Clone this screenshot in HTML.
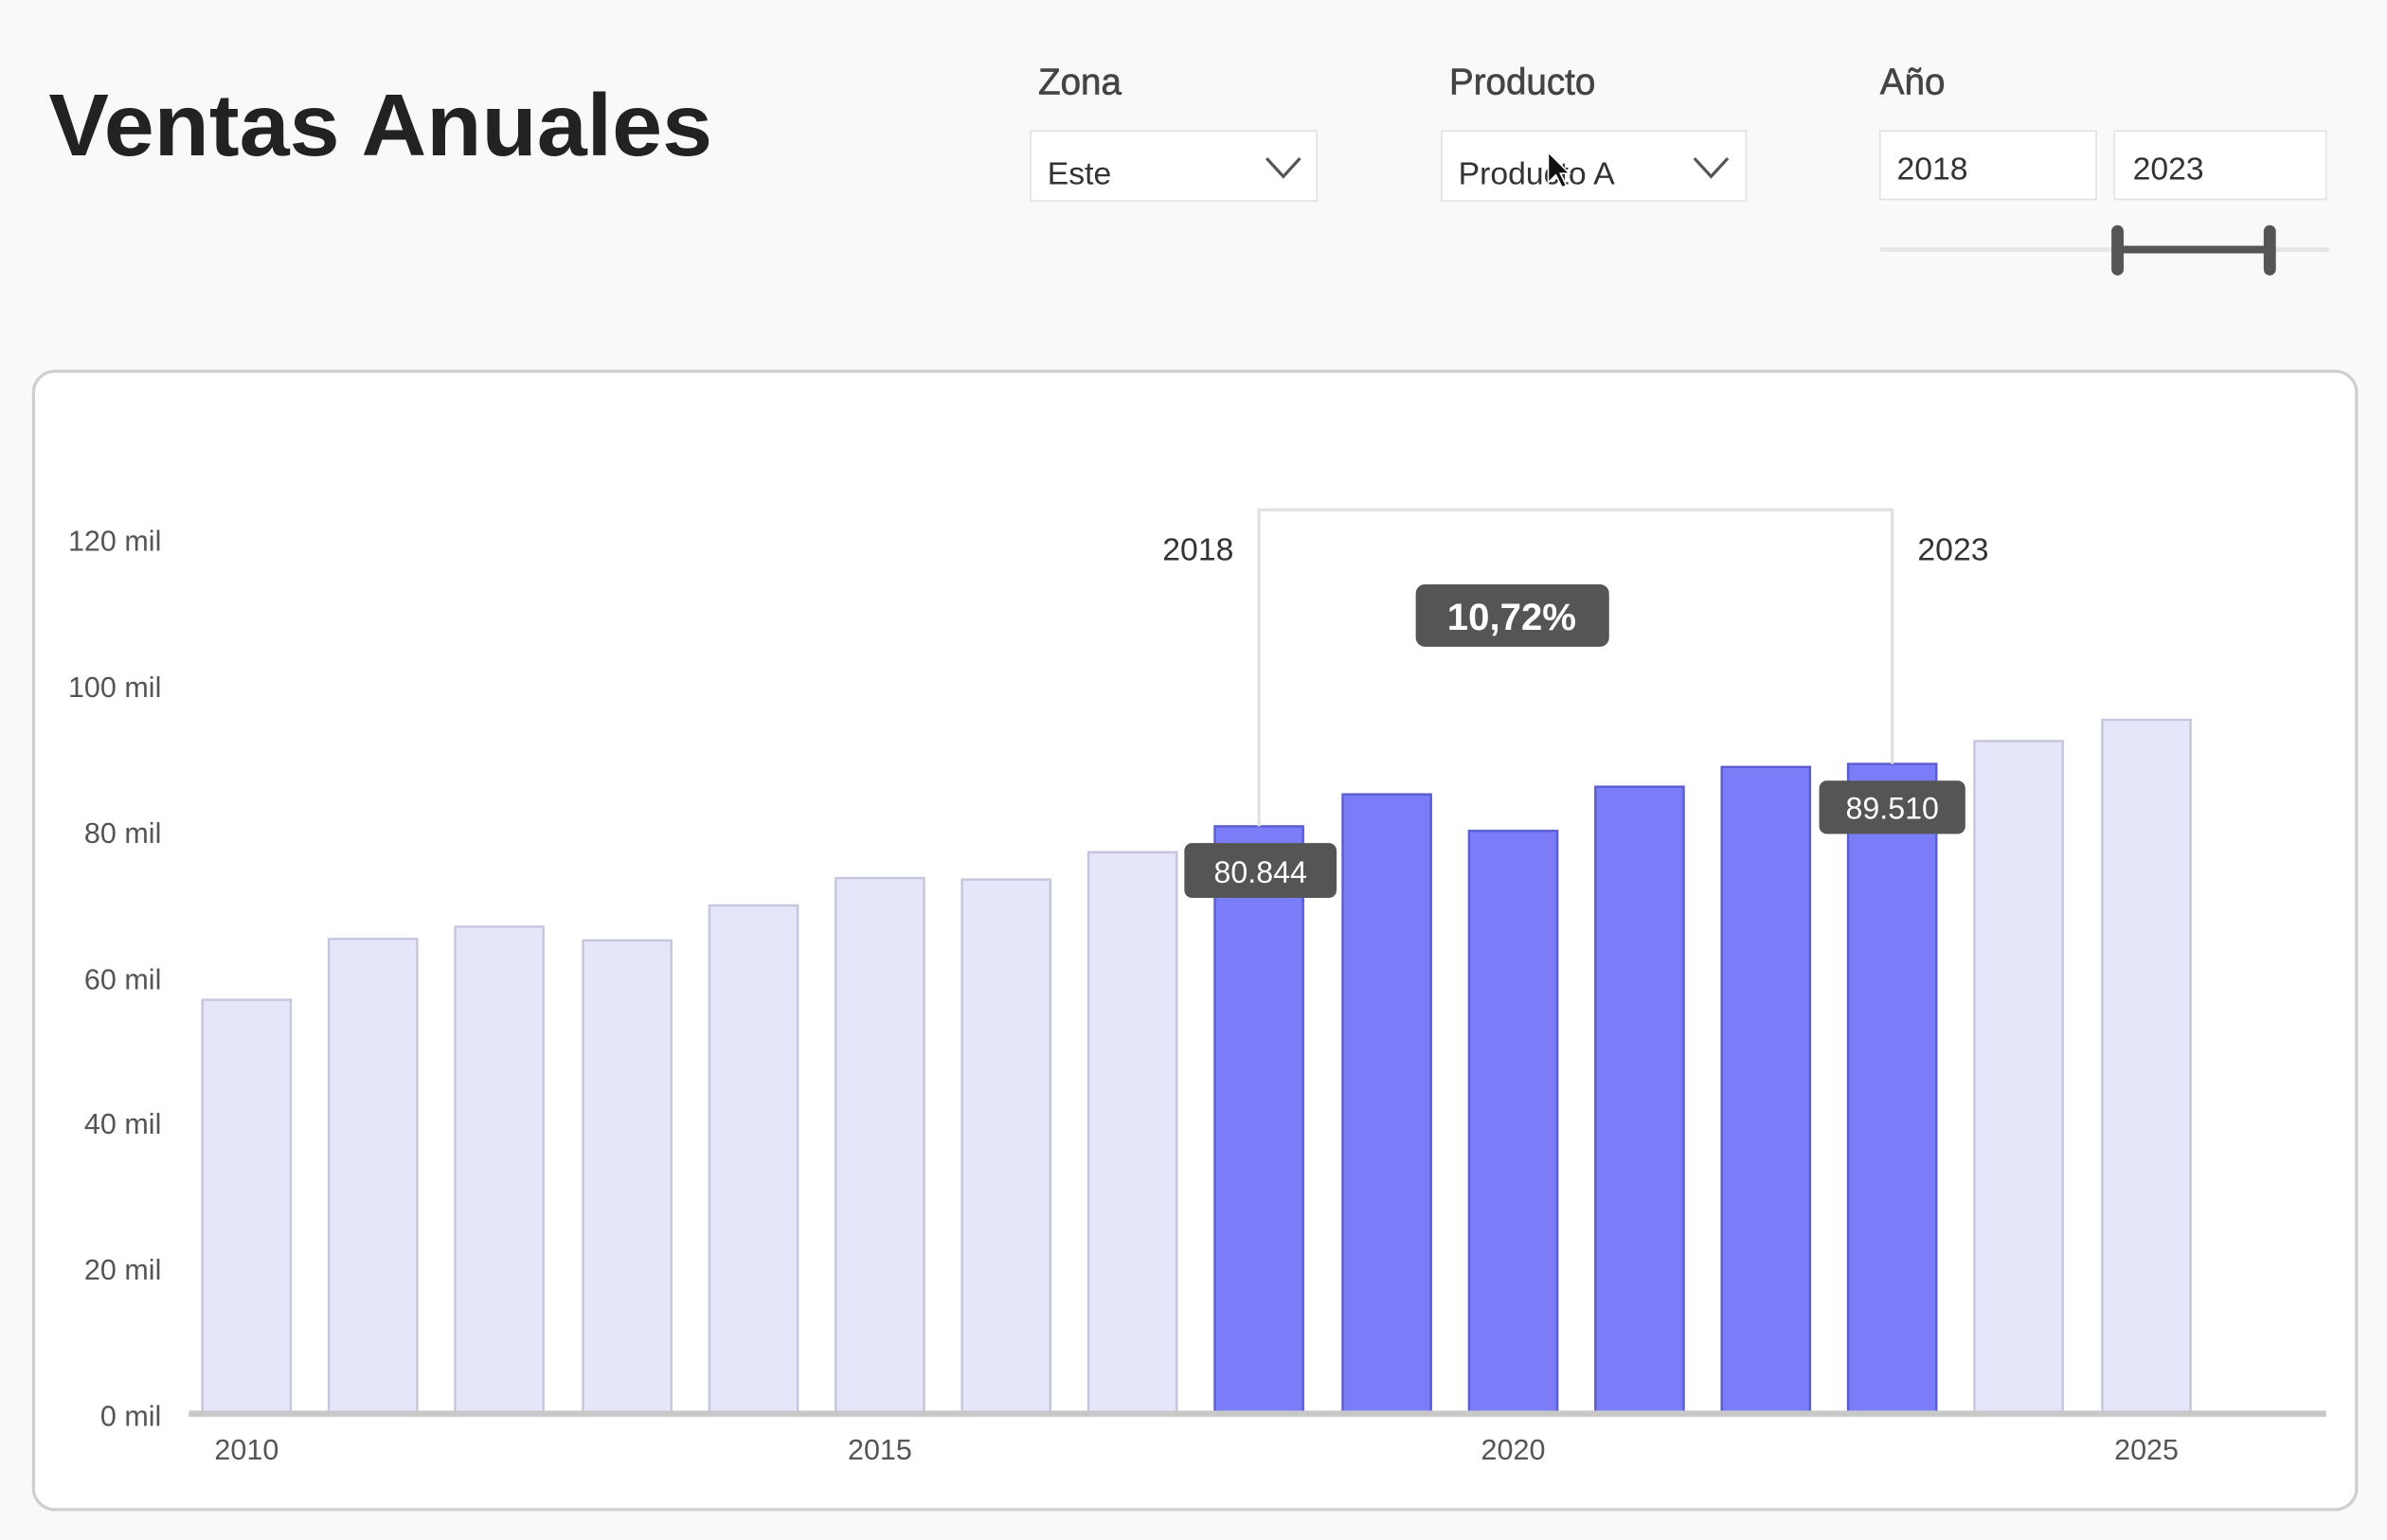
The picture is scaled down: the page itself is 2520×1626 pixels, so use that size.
<!DOCTYPE html>
<html><head><meta charset="utf-8"><style>
html,body{margin:0;padding:0;background:#f9f9f9;}
svg{display:block;}
text{font-family:"Liberation Sans","DejaVu Sans",sans-serif;}
</style></head><body>
<svg width="2520" height="1626" viewBox="0 0 1568 1012" preserveAspectRatio="none" xmlns="http://www.w3.org/2000/svg">
<rect x="0" y="0" width="1568" height="1012" fill="#f9f9f9"/>
<text x="32" y="102" font-size="58" font-weight="bold" fill="#222" textLength="436" lengthAdjust="spacingAndGlyphs">Ventas Anuales</text>
<text x="682" y="62" font-size="24" fill="#444" stroke="#444" stroke-width="0.4">Zona</text>
<rect x="677" y="86" width="188" height="46" fill="#fff" stroke="#e2e2e2"/>
<text x="688" y="121" font-size="21" fill="#333">Este</text>
<polyline points="832,104 843,116 854,104" fill="none" stroke="#555" stroke-width="2"/>
<text x="952" y="62" font-size="24" fill="#444" stroke="#444" stroke-width="0.4">Producto</text>
<rect x="947" y="86" width="200" height="46" fill="#fff" stroke="#e2e2e2"/>
<text x="958" y="121" font-size="21" fill="#333">Producto A</text>
<polyline points="1113,104 1124,116 1135,104" fill="none" stroke="#555" stroke-width="2"/>
<path d="M1017,100 L1017,120 L1022,115 L1026,123 L1029,122 L1025,114 L1031,114 Z" fill="#111" stroke="#fff" stroke-width="1"/>
<text x="1235" y="62" font-size="24" fill="#444" stroke="#444" stroke-width="0.4">Año</text>
<rect x="1235" y="86" width="142" height="45" fill="#fff" stroke="#e2e2e2"/>
<text x="1246" y="118" font-size="21" fill="#333">2018</text>
<rect x="1389" y="86" width="139" height="45" fill="#fff" stroke="#e2e2e2"/>
<text x="1401" y="118" font-size="21" fill="#333">2023</text>
<line x1="1235" y1="164" x2="1530" y2="164" stroke="#e6e6e6" stroke-width="3"/>
<line x1="1391" y1="164" x2="1491" y2="164" stroke="#555" stroke-width="5"/>
<rect x="1387" y="148" width="8" height="33" rx="4" fill="#555"/>
<rect x="1487" y="148" width="8" height="33" rx="4" fill="#555"/>
<rect x="22" y="244" width="1526" height="748" rx="14" fill="#fff" stroke="#cfcfcf" stroke-width="2"/>
<g font-size="19" fill="#555" text-anchor="end">
<text x="106" y="362">120 mil</text><text x="106" y="458">100 mil</text><text x="106" y="554">80 mil</text>
<text x="106" y="650">60 mil</text><text x="106" y="745">40 mil</text><text x="106" y="841">20 mil</text><text x="106" y="937">0 mil</text>
</g>
<g stroke-width="1.5">
<rect x="133" y="657" width="58" height="272" fill="#e6e6fb" stroke="#c5c5dd"/>
<rect x="216" y="617" width="58" height="312" fill="#e6e6fb" stroke="#c5c5dd"/>
<rect x="299" y="609" width="58" height="320" fill="#e6e6fb" stroke="#c5c5dd"/>
<rect x="383" y="618" width="58" height="311" fill="#e6e6fb" stroke="#c5c5dd"/>
<rect x="466" y="595" width="58" height="334" fill="#e6e6fb" stroke="#c5c5dd"/>
<rect x="549" y="577" width="58" height="352" fill="#e6e6fb" stroke="#c5c5dd"/>
<rect x="632" y="578" width="58" height="351" fill="#e6e6fb" stroke="#c5c5dd"/>
<rect x="715" y="560" width="58" height="369" fill="#e6e6fb" stroke="#c5c5dd"/>
<rect x="798" y="543" width="58" height="386" fill="#7b7cf8" stroke="#5b5cd0"/>
<rect x="882" y="522" width="58" height="407" fill="#7b7cf8" stroke="#5b5cd0"/>
<rect x="965" y="546" width="58" height="383" fill="#7b7cf8" stroke="#5b5cd0"/>
<rect x="1048" y="517" width="58" height="412" fill="#7b7cf8" stroke="#5b5cd0"/>
<rect x="1131" y="504" width="58" height="425" fill="#7b7cf8" stroke="#5b5cd0"/>
<rect x="1214" y="502" width="58" height="427" fill="#7b7cf8" stroke="#5b5cd0"/>
<rect x="1297" y="487" width="58" height="442" fill="#e6e6fb" stroke="#c5c5dd"/>
<rect x="1381" y="473" width="58" height="456" fill="#e6e6fb" stroke="#c5c5dd"/>
</g>
<line x1="124" y1="929" x2="1528" y2="929" stroke="#c8c8c8" stroke-width="4"/>
<g font-size="19" fill="#555" text-anchor="middle">
<text x="162" y="959">2010</text><text x="578" y="959">2015</text><text x="994" y="959">2020</text><text x="1410" y="959">2025</text>
</g>
<polyline points="827,543 827,335 1243,335 1243,502" fill="none" stroke="#e0e0e0" stroke-width="2"/>
<text x="787" y="368" font-size="21" fill="#333" text-anchor="middle">2018</text>
<text x="1283" y="368" font-size="21" fill="#333" text-anchor="middle">2023</text>
<rect x="930" y="384" width="127" height="41" rx="6" fill="#555"/>
<text x="993" y="414" font-size="25" font-weight="bold" fill="#fff" text-anchor="middle">10,72%</text>
<rect x="778" y="554" width="100" height="36" rx="5" fill="#555"/>
<text x="828" y="580" font-size="20" fill="#fff" text-anchor="middle">80.844</text>
<rect x="1195" y="513" width="96" height="35" rx="5" fill="#555"/>
<text x="1243" y="538" font-size="20" fill="#fff" text-anchor="middle">89.510</text>
</svg>
</body></html>
